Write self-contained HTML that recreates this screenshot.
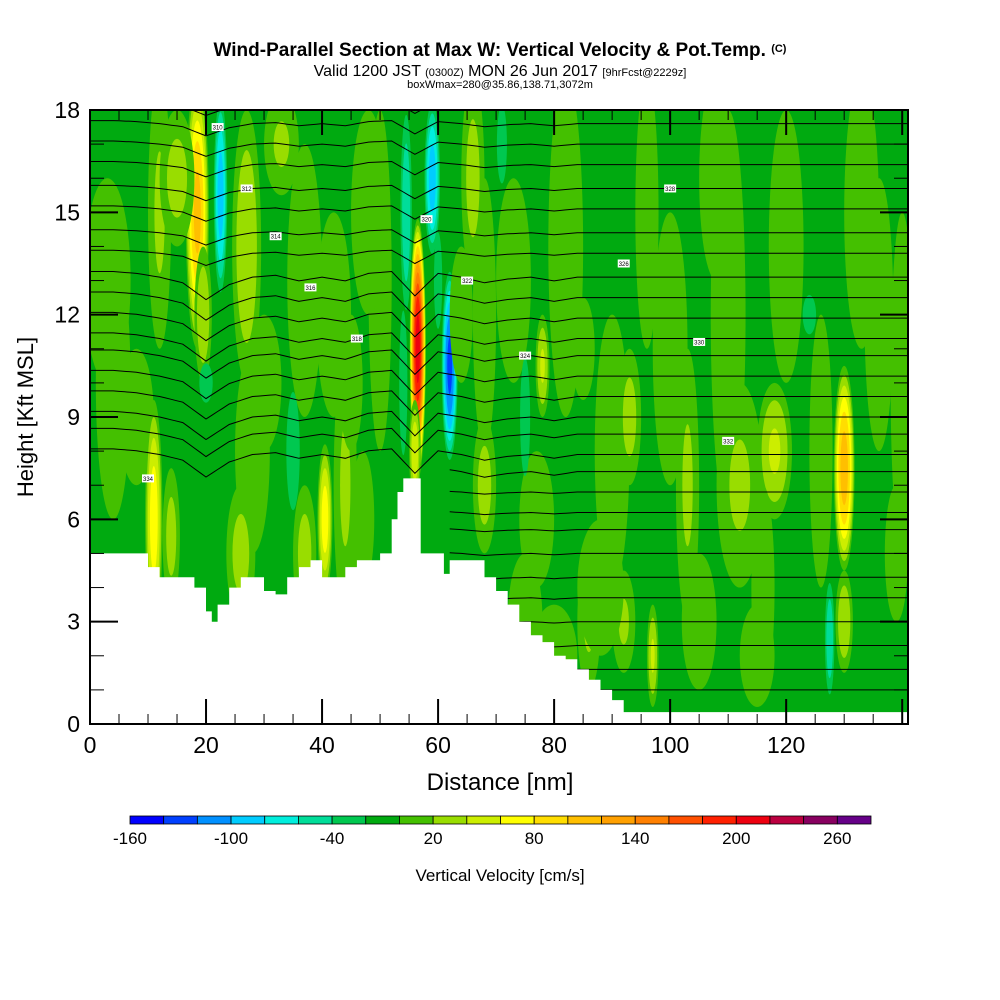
<!DOCTYPE html>
<html><head><meta charset="utf-8"><style>
body{margin:0;background:#fff}
svg{display:block;font-family:"Liberation Sans",sans-serif}
</style></head><body>
<svg id="chart" width="1000" height="1000" viewBox="0 0 1000 1000">
<rect width="1000" height="1000" fill="#fff"/>
<text x="500" y="56" text-anchor="middle" font-size="19" font-weight="bold">Wind-Parallel Section at Max W: Vertical Velocity &amp; Pot.Temp. <tspan font-size="11" dy="-4">(C)</tspan></text>
<text x="500" y="76" text-anchor="middle" font-size="16">Valid 1200 JST <tspan font-size="11">(0300Z)</tspan> MON 26 Jun 2017 <tspan font-size="11">[9hrFcst@2229z]</tspan></text>
<text x="500" y="88" text-anchor="middle" font-size="11">boxWmax=280@35.86,138.71,3072m</text>
<defs><clipPath id="pc"><rect x="90" y="110" width="818" height="614"/></clipPath></defs>
<g id="field" clip-path="url(#pc)"></g>
<g id="contours" clip-path="url(#pc)"></g>
<g id="terrain" clip-path="url(#pc)"></g>
<g id="axes"></g>
<text x="500" y="790" text-anchor="middle" font-size="24">Distance [nm]</text>
<text transform="translate(33,417) rotate(-90)" text-anchor="middle" font-size="22">Height [Kft MSL]</text>
<g id="cbar"></g>
<text x="500" y="881" text-anchor="middle" font-size="17">Vertical Velocity [cm/s]</text>
</svg>
<script>
const NS="http://www.w3.org/2000/svg";
const binColors=["#0000ff","#0040ff","#0090ff","#00ccff","#00eedd","#00dd99","#00c850","#00aa10","#44c000","#99dd00","#ccee00","#ffff00","#ffdd00","#ffbf00","#ffa000","#ff8000","#ff5000","#ff2000","#ee0010","#bb0040","#880060","#660088"];
const cbarLabels=[-160,-100,-40,20,80,140,200,260];
const xTicks=[0,20,40,60,80,100,120];
const yTicks=[0,3,6,9,12,15,18];
// features: x(nm), height(kft), half-width(nm), half-height(kft), peak (cm/s)
const featX=[4,12,28,37,44,50,68,75,82,90,96,103,110,126,133,86,3,8,11,14,18.5,19.5,22.5,20,15,27,30,26,33,40.5,37,42,35,47,48,45,56.5,56,54.5,54,62,59,60,66,64,71,68,73,78,77,75,85,93,92,97,100,108,112,118,120,124,130,130,127.5,136,139,88,80,105,115,116,140];
const featY=[10,15,8,13,7,13,12,3,14,8,15,7,12,8,15,3,13,9,6,5.5,15,12,15.5,10,16,14,10,5,17,6,5,12,8,6,15,10,11,8,15,10,10.5,16,13,16,12,17,7,13,10.5,6,9,11,9,3,2,11,16,7,8,14,12,7.5,3,2.5,12,5,4,2,3,2,4,10];
const featRX=[3,2,3,3,2,2,2,3,3,3,2,2,3,2,3,2,4,3,1.5,1.5,2,1.5,1.3,2,3,2.5,3,2.5,3,1.3,2,3,2,2,3,2,1.4,1,1.2,1,1.5,1.5,1,2,2,1.5,2,3,1.2,3,1.5,2,2,2,1,3,3,4,3,3,2,1.8,1.5,1,2.5,2,4,4,3,3,2,2];
const featRY=[4,4,3,4,4,5,4,2,5,4,4,4,6,4,4,2,3,2,3.5,2,4,2,3.2,1,2,4,2,2,1.5,2.2,2,3,3,2,3,2,3.8,1.5,3.5,3,3,2.5,2,3,2,2,2,3,1.5,2,3,1.5,2,1.5,1.5,4,3,3,2,4,1,3,1.5,2,4,2,2,1.5,2,1.5,3,5];
const featV=[15,25,15,15,25,15,15,15,15,15,15,25,15,15,15,25,15,15,75,30,110,40,-95,-30,30,40,15,30,25,75,30,15,-30,15,15,15,215,60,-60,-40,-130,-95,-40,30,20,-30,30,15,45,20,-30,15,30,25,45,15,15,25,45,15,-30,115,40,-60,20,15,15,15,15,15,15,15];
// terrain heights (kft)
const terrX=[0,8,10,12,18,20,21,22,24,26,30,32,34,36,38,40,44,46,50,52,53,54,56,57,60,61,62,66,68,70,72,74,76,78,80,82,84,86,88,90,92,141];
const terrH=[5,5,4.6,4.3,4.0,3.3,3.0,3.5,4.0,4.3,3.9,3.8,4.3,4.6,4.8,4.3,4.6,4.8,5.0,6.0,6.8,7.2,7.2,5.0,5.0,4.4,4.8,4.8,4.3,3.9,3.5,3.0,2.6,2.4,2.0,1.9,1.6,1.3,1.0,0.7,0.35,0.35];
// isentrope perturbation (kft) at x = 0,4,...,140
const pertX=[0,4,8,12,16,20,24,28,32,36,40,44,48,52,56,60,64,68,72,76,80,84,88,92,96,100,104,108,112,116,120,124,128,132,136,140];
const pertH=[0.3,0.3,0.2,0,-0.3,-1.2,-0.4,0,0.1,-0.2,0,-0.2,0.2,0.3,-1.0,0.2,0,-0.3,-0.1,0,-0.2,0,0,0,0,0,0,0,0,0,0,0,0,0,0,0];
const thetaBase=[1.0,1.6,2.3,3.0,3.7,4.3,5.0,5.7,6.2,6.8,7.4,7.9,8.5,9.0,9.6,10.2,10.8,11.3,11.9,12.5,13.1,13.8,14.4,15.1,15.7,16.4,17.0,17.6,18.2];

const X0=90,X1=908,XMAX=141,Y0=724,Y1=110,YMAX=18;
const xs=v=>X0+v*(X1-X0)/XMAX;
const ys=v=>Y0-v*(Y0-Y1)/YMAX;
function mk(tag,attrs,parent){const e=document.createElementNS(NS,tag);for(const k in attrs)e.setAttribute(k,attrs[k]);parent.appendChild(e);return e;}
function binIndex(v){return Math.max(0,Math.min(21,Math.floor((v+160)/20)));}

const field=document.getElementById('field');
const bg=mk('rect',{x:90,y:110,width:818,height:614,fill:binColors[7]},field);


for(let i=0;i<featX.length;i++){
  const v=featV[i];
  const g=mk('g',{},field);
  
  
  if(v>0){
    for(let t=0;t<v;t+=20){
      const s=Math.sqrt(1-t/v);
      mk('ellipse',{cx:xs(featX[i]),cy:ys(featY[i]),rx:Math.max(0.5,featRX[i]*s*(X1-X0)/XMAX),ry:Math.max(0.5,featRY[i]*s*(Y0-Y1)/YMAX),fill:binColors[binIndex(t+1)]},g);
    }
  } else if(v<0){
    for(let t=-20;t>v;t-=20){
      const s=Math.sqrt(1-t/v);
      mk('ellipse',{cx:xs(featX[i]),cy:ys(featY[i]),rx:Math.max(0.5,featRX[i]*s*(X1-X0)/XMAX),ry:Math.max(0.5,featRY[i]*s*(Y0-Y1)/YMAX),fill:binColors[binIndex(t-1)]},g);
    }
  }
}

const cont=document.getElementById('contours');
function pert(x){for(let i=0;i<pertX.length-1;i++){if(x<=pertX[i+1]){const f=(x-pertX[i])/(pertX[i+1]-pertX[i]);return pertH[i]+f*(pertH[i+1]-pertH[i]);}}return 0;}
thetaBase.forEach((b,li)=>{
  const w=b<7?0.2:(b<13.5?0.55:0.3);
  let d="";let started=false;
  const xStart=b<7.5?62:0;
  for(let x=xStart;x<=141;x+=1){
    const h=b+pert(x)*w;
    d+=(started?"L":"M")+xs(x).toFixed(1)+","+ys(h).toFixed(1);started=true;
  }
  const p=mk('path',{d:d,fill:"none",stroke:"#000","stroke-width":1},cont);
  
  
});
const labX=[22,27,32,38,46,58,65,75,92,100,105,110,10];
const labY=[17.5,15.7,14.3,12.8,11.3,14.8,13,10.8,13.5,15.7,11.2,8.3,7.2];
labX.forEach((x,i)=>{
  const r=mk('rect',{x:xs(x)-6,y:ys(labY[i])-4,width:12,height:8,fill:"#fff"},cont);
  
  
  const t=mk('text',{x:xs(x),y:ys(labY[i])+2.5,"text-anchor":"middle","font-size":6},cont);
  t.textContent=String(310+i*2);
});

const terr=document.getElementById('terrain');
let td="M"+xs(0)+","+Y0;
for(let i=0;i<terrX.length;i++){
  td+=" L"+xs(terrX[i]).toFixed(1)+","+ys(terrH[i]).toFixed(1);
  if(i<terrX.length-1)td+=" L"+xs(terrX[i+1]).toFixed(1)+","+ys(terrH[i]).toFixed(1);
}
td+=" L"+xs(141)+","+Y0+"Z";
const tp=mk('path',{d:td,fill:"#fff"},terr);



const ax=document.getElementById('axes');
const frame=mk('rect',{x:90,y:110,width:818,height:614,fill:"none",stroke:"#000","stroke-width":2},ax);


for(let v=0;v<=18;v++){
  const L=v%3===0?28:14;
  mk('line',{x1:90,x2:90+L,y1:ys(v),y2:ys(v),stroke:"#000","stroke-width":v%3===0?2:1},ax);
  mk('line',{x1:908,x2:908-L,y1:ys(v),y2:ys(v),stroke:"#000","stroke-width":v%3===0?2:1},ax);
}
for(let v=0;v<=140;v+=5){
  const L=v%20===0?25:10;
  mk('line',{x1:xs(v),x2:xs(v),y1:724,y2:724-L,stroke:"#000","stroke-width":v%20===0?2:1},ax);
  mk('line',{x1:xs(v),x2:xs(v),y1:110,y2:110+L,stroke:"#000","stroke-width":v%20===0?2:1},ax);
}
yTicks.forEach(v=>{
  const t=mk('text',{x:80,y:ys(v)+8,"text-anchor":"end","font-size":23},ax);
  
  
  t.textContent=v;
});
xTicks.forEach(v=>{
  const t=mk('text',{x:xs(v),y:753,"text-anchor":"middle","font-size":23},ax);
  
  
  t.textContent=v;
});

const cb=document.getElementById('cbar');
const cbX0=130,cbW=741/22;
binColors.forEach((c,i)=>{
  const r=mk('rect',{x:cbX0+i*cbW,y:816,width:cbW,height:8,fill:c,stroke:"#000","stroke-width":0.8},cb);
  
  
});
cbarLabels.forEach(v=>{
  const t=mk('text',{x:cbX0+(v+160)/20*cbW,y:844,"text-anchor":"middle","font-size":17},cb);
  
  
  t.textContent=v;
});
</script>
</body></html>
